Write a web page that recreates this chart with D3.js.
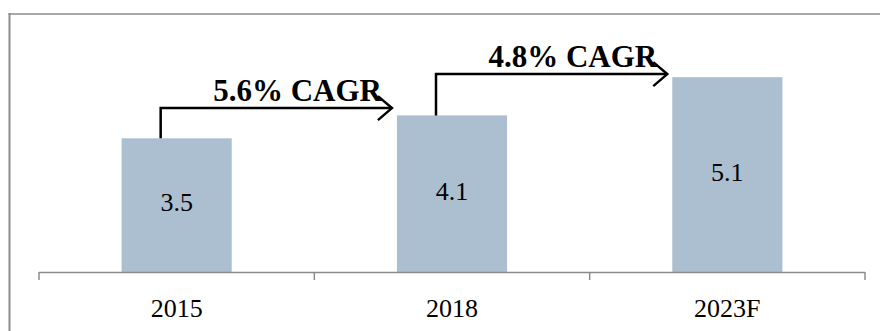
<!DOCTYPE html>
<html>
<head>
<meta charset="utf-8">
<script src="https://cdn.jsdelivr.net/npm/d3@7/dist/d3.min.js"></script>
<style>
  html, body { margin: 0; padding: 0; background: #fff; }
  svg { display: block; }
</style>
</head>
<body>
<svg id="chart" width="880" height="331"></svg>
<script>
// Market size by year
const categories = ["2015", "2018", "2023F"];
const values = [3.5, 4.1, 5.1];
const valueLabels = ["3.5", "4.1", "5.1"];

// Growth arrows: from one year to the next, drawn at a given value level
const cagrFrom = ["2015", "2018"];
const cagrTo = ["2018", "2023F"];
const cagrLevel = [4.29, 5.18];
const cagrLabels = ["5.6% CAGR", "4.8% CAGR"];

const W = 880, H = 331;
const svg = d3.select("#chart");
const serif = "'Liberation Serif', 'Times New Roman', serif";

// Outer frame (top and left edges visible)
svg.append("line").attr("x1", 8.5).attr("x2", W).attr("y1", 14).attr("y2", 14)
  .attr("stroke", "#a8a8a8").attr("stroke-width", 2);
svg.append("line").attr("x1", 9.5).attr("x2", 9.5).attr("y1", 13).attr("y2", H)
  .attr("stroke", "#8c8c8c").attr("stroke-width", 2);

const x = d3.scaleBand().domain(categories).range([39, 865]).padding(0);
const y = d3.scaleLinear().domain([0, 6]).range([272, 272 - 6 * 38.2]);
const barW = x.bandwidth() * 0.4;
const barX = c => x(c) + (x.bandwidth() - barW) / 2;

// Bars
svg.append("g").selectAll("rect").data(categories).join("rect")
  .attr("x", d => barX(d))
  .attr("y", (d, i) => y(values[i]))
  .attr("width", barW)
  .attr("height", (d, i) => y(0) - y(values[i]))
  .attr("fill", "#abbfd0");

// Value labels inside bars
svg.append("g").selectAll("text").data(categories).join("text")
  .attr("x", d => x(d) + x.bandwidth() / 2)
  .attr("y", (d, i) => (y(values[i]) + y(0)) / 2 + 6)
  .attr("text-anchor", "middle")
  .attr("font-family", serif)
  .attr("font-size", 26)
  .attr("fill", "#000")
  .text((d, i) => valueLabels[i]);

// Category axis with boundary ticks
const axisG = svg.append("g");
axisG.append("line")
  .attr("x1", x.range()[0]).attr("x2", x.range()[1])
  .attr("y1", y(0) + 0.5).attr("y2", y(0) + 0.5)
  .attr("stroke", "#8c8c8c").attr("stroke-width", 1.5);
const boundaries = categories.map(c => x(c)).concat([x.range()[1]]);
axisG.selectAll("line.tick").data(boundaries).join("line")
  .attr("class", "tick")
  .attr("x1", d => d).attr("x2", d => d)
  .attr("y1", y(0)).attr("y2", y(0) + 8)
  .attr("stroke", "#8c8c8c").attr("stroke-width", 1.5);
axisG.selectAll("text").data(categories).join("text")
  .attr("x", d => x(d) + x.bandwidth() / 2)
  .attr("y", 317)
  .attr("text-anchor", "middle")
  .attr("font-family", serif)
  .attr("font-size", 26)
  .attr("fill", "#000")
  .text(d => d);

// CAGR arrows
const arrows = svg.append("g");
cagrFrom.forEach((from, i) => {
  const fi = categories.indexOf(from);
  const x0 = x(from) + x.bandwidth() / 2 - 16;
  const y0 = y(values[fi]);
  const yl = y(cagrLevel[i]);
  const x1 = barX(cagrTo[i]) - 5;
  arrows.append("path")
    .attr("d", `M${x0},${y0} V${yl} H${x1}`)
    .attr("fill", "none").attr("stroke", "#000").attr("stroke-width", 2.5);
  arrows.append("path")
    .attr("d", `M${x1 - 14},${yl - 12} L${x1},${yl} L${x1 - 14},${yl + 12}`)
    .attr("fill", "none").attr("stroke", "#000").attr("stroke-width", 2.5)
    .attr("stroke-linejoin", "miter");
  arrows.append("text")
    .attr("x", x1 - 10)
    .attr("y", yl - 7)
    .attr("text-anchor", "end")
    .attr("font-family", serif)
    .attr("font-weight", "bold")
    .attr("font-size", 31)
    .attr("fill", "#000")
    .text(cagrLabels[i]);
});
</script>
</body>
</html>
